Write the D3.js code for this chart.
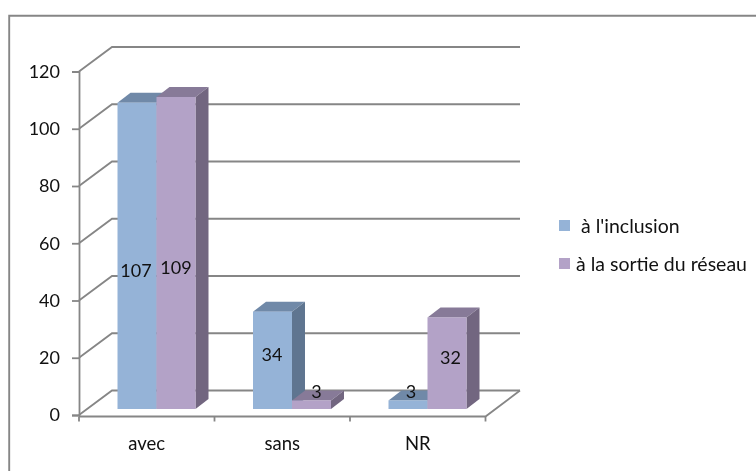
<!DOCTYPE html>
<html>
<head>
<meta charset="utf-8">
<script src="https://cdn.jsdelivr.net/npm/d3@7"></script>
<style>
  html, body { margin: 0; padding: 0; background: #fff; }
  svg { display: block; filter: blur(0.35px); }
  text { font-family: Lato, "Open Sans", sans-serif; fill: #111; }
</style>
</head>
<body>
<script>
// Valeurs
const categories = ['avec', 'sans', 'NR'];
const seriesNames = ["à l'inclusion", 'à la sortie du réseau'];
const inclusion = [107, 34, 3];
const sortie = [109, 3, 32];
const yTicks = [0, 20, 40, 60, 80, 100, 120];

const seriesValues = [inclusion, sortie];
const colors = [
  { front: '#95b3d7', top: '#7089a8', side: '#5f7590' },
  { front: '#b3a2c7', top: '#877a98', side: '#726680' }
];

const width = 756, height = 471;
const axisColor = '#868686';
const lineWidth = 1.8;

// profondeur du mur du fond et des barres
const wall = { dx: 33, dy: -24.5 };
const depth = { dx: 13, dy: -10 };
const floorDy = -6;

// décalage horizontal des étiquettes, par catégorie puis par série
const labelNudge = [[-1, 0], [-0.5, 5], [3, 3.5]];

const svg = d3.select('body').append('svg')
  .attr('width', width)
  .attr('height', height);

// Cadre: seulement à gauche et en haut, le reste est coupé
svg.append('path')
  .attr('d', d3.line()([[9.2, height], [9.2, 15.7], [width, 15.7]]))
  .attr('fill', 'none')
  .attr('stroke', '#868686')
  .attr('stroke-width', 1.9);

const y = d3.scaleLinear().domain([0, 120]).range([415, 71.5]);
const x0 = d3.scaleBand().domain(categories).range([79, 485.5]);
const x1 = d3.scaleBand().domain(d3.range(seriesNames.length)).range([38.5, 116.5]);

// Grille: mur du fond et côté gauche
const grid = svg.append('g').attr('fill', 'none').attr('stroke', axisColor).attr('stroke-width', lineWidth);
yTicks.forEach(function(t) {
  grid.append('path')
    .attr('d', d3.line()([
      [79, y(t)],
      [79 + wall.dx, y(t) + wall.dy],
      [520, y(t) + wall.dy]
    ]));
});

// Sol
grid.append('path').attr('d', d3.line()([
  [79, y(0) + 1.5],
  [485.5, y(0) + 1.5],
  [520, y(0) + wall.dy]
]));

// Axe Y
const yAxis = d3.axisLeft(y).tickValues(yTicks).tickSize(7).tickPadding(12);
const yG = svg.append('g').attr('transform', 'translate(79,0)').call(yAxis);
yG.select('.domain').attr('stroke', axisColor).attr('stroke-width', lineWidth);
yG.selectAll('line').attr('stroke', axisColor).attr('stroke-width', lineWidth);
yG.selectAll('text').style('font-size', '18px').style('font-family', 'Lato').attr('fill', '#111');

// Axe X
const xAxis = d3.axisBottom(x0).tickSize(0).tickPadding(20);
const xG = svg.append('g').attr('transform', 'translate(0,' + (y(0) + 1.5) + ')').call(xAxis);
xG.select('.domain').remove();
xG.selectAll('text').style('font-size', '18.5px').style('font-family', 'Lato').attr('fill', '#111');
x0.domain().concat(['end']).forEach(function(c, i) {
  const tx = 79 + i * x0.step();
  xG.append('line').attr('x1', tx).attr('x2', tx).attr('y1', 0).attr('y2', 5)
    .attr('stroke', axisColor).attr('stroke-width', lineWidth);
});

// Barres 3D
const baseY = function(v) { return y(v) + floorDy; };
const bars = svg.append('g');
const labels = svg.append('g');
categories.forEach(function(cat, i) {
  seriesValues.forEach(function(values, s) {
    const v = values[i];
    const xl = x0(cat) + x1(s);
    const xr = xl + x1.bandwidth();
    const yt = baseY(v);
    const yb = baseY(0);
    const c = colors[s];
    const g = bars.append('g');
    g.append('polygon')
      .attr('points', [[xl, yt], [xl + depth.dx, yt + depth.dy], [xr + depth.dx, yt + depth.dy], [xr, yt]].join(' '))
      .attr('fill', c.top);
    g.append('polygon')
      .attr('points', [[xr, yt], [xr + depth.dx, yt + depth.dy], [xr + depth.dx, yb + depth.dy], [xr, yb]].join(' '))
      .attr('fill', c.side);
    g.append('rect')
      .attr('x', xl).attr('y', yt)
      .attr('width', x1.bandwidth()).attr('height', yb - yt)
      .attr('fill', c.front);

    // l'étiquette n'est pas au milieu de la barre dans l'original: environ 40% de la hauteur
    labels.append('text')
      .attr('x', (xl + xr) / 2 + labelNudge[i][s])
      .attr('y', y(v * 0.406) - 20.5 + 6.5)
      .attr('text-anchor', 'middle')
      .style('font-size', '18px')
      .text(v);
  });
});

// Légende
const legendY = [225.5, 263.5];
const legendTextX = [581, 576];
const legend = svg.append('g');
seriesNames.forEach(function(name, s) {
  legend.append('rect')
    .attr('x', 559).attr('y', legendY[s] - 5.5)
    .attr('width', 11).attr('height', 11)
    .attr('fill', colors[s].front);
  legend.append('text')
    .attr('x', legendTextX[s]).attr('y', legendY[s] + 7)
    .style('font-size', '19.5px')
    .text(name);
});
</script>
</body>
</html>
